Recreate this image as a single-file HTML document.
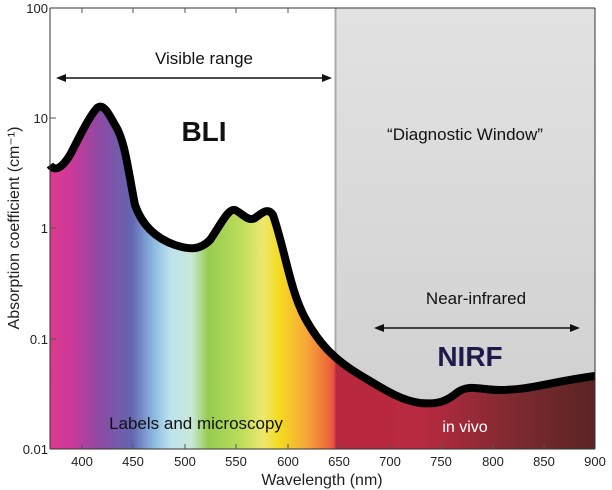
<!DOCTYPE html>
<html><head><meta charset="utf-8"><style>
body{margin:0;background:#fff;}
svg{display:block;font-family:"Liberation Sans",sans-serif;}
</style></head><body>
<svg width="612" height="490" viewBox="0 0 612 490" xmlns="http://www.w3.org/2000/svg">
<defs>
<linearGradient id="spec" x1="50" x2="595" y1="0" y2="0" gradientUnits="userSpaceOnUse">
<stop offset="0" stop-color="#de3a8e"/>
<stop offset="0.04" stop-color="#cc389a"/>
<stop offset="0.09" stop-color="#8d4aa3"/>
<stop offset="0.15" stop-color="#6266b0"/>
<stop offset="0.19" stop-color="#8ab8e0"/>
<stop offset="0.22" stop-color="#bde2ee"/>
<stop offset="0.26" stop-color="#c9e8d8"/>
<stop offset="0.29" stop-color="#96cc50"/>
<stop offset="0.35" stop-color="#bcdc5a"/>
<stop offset="0.39" stop-color="#ece870"/>
<stop offset="0.42" stop-color="#f4dc20"/>
<stop offset="0.47" stop-color="#f6a838"/>
<stop offset="0.51" stop-color="#ee6a3a"/>
<stop offset="0.521" stop-color="#e65040"/>
<stop offset="0.525" stop-color="#b8283e"/>
<stop offset="0.68" stop-color="#b82a40"/>
<stop offset="0.85" stop-color="#7e2a30"/>
<stop offset="1" stop-color="#5a2424"/>
</linearGradient>
<linearGradient id="gray" x1="0" x2="0" y1="0" y2="1">
<stop offset="0" stop-color="#e2e2e2"/><stop offset="1" stop-color="#cfcfcf"/>
</linearGradient>
<clipPath id="cl"><path d="M50,165 C55,172 62,168 70,155 C78,140 88,118 97,108 C103,103 108,112 115,125 C125,140 128,170 135,205 C142,225 155,238 175,245 C190,250 200,250 210,240 C220,226 228,208 235,210 C242,213 248,222 255,218 C262,213 268,207 273,215 C285,250 290,290 305,318 C320,345 335,360 360,375 C385,390 400,400 420,403 C440,405 448,400 458,392 C470,384 480,390 500,390 C530,390 550,382 595,376 L595,449 L50,449 Z"/></clipPath>
</defs>
<rect x="335" y="8" width="260" height="441" fill="url(#gray)"/>
<line x1="335.5" y1="8" x2="335.5" y2="449" stroke="#aaa" stroke-width="2"/>
<rect x="50" y="8" width="545" height="441" fill="url(#spec)" clip-path="url(#cl)"/>
<path d="M50,165 C55,172 62,168 70,155 C78,140 88,118 97,108 C103,103 108,112 115,125 C125,140 128,170 135,205 C142,225 155,238 175,245 C190,250 200,250 210,240 C220,226 228,208 235,210 C242,213 248,222 255,218 C262,213 268,207 273,215 C285,250 290,290 305,318 C320,345 335,360 360,375 C385,390 400,400 420,403 C440,405 448,400 458,392 C470,384 480,390 500,390 C530,390 550,382 595,376" fill="none" stroke="#000" stroke-width="8" stroke-linejoin="round"/>
<g stroke="#333" stroke-width="1" fill="none">
<line x1="50" y1="8" x2="50" y2="449"/><line x1="50" y1="449" x2="595" y2="449"/>
<line x1="50" y1="8" x2="595" y2="8"/><line x1="595" y1="8" x2="595" y2="449"/>
</g>
<g stroke="#555" stroke-width="1">
<line x1="82" y1="449" x2="82" y2="444"/><line x1="133" y1="449" x2="133" y2="444"/><line x1="185" y1="449" x2="185" y2="444"/><line x1="236" y1="449" x2="236" y2="444"/><line x1="288" y1="449" x2="288" y2="444"/><line x1="339" y1="449" x2="339" y2="444"/><line x1="390" y1="449" x2="390" y2="444"/><line x1="441" y1="449" x2="441" y2="444"/><line x1="493" y1="449" x2="493" y2="444"/><line x1="544" y1="449" x2="544" y2="444"/>
<line x1="82" y1="8" x2="82" y2="13"/><line x1="133" y1="8" x2="133" y2="13"/><line x1="185" y1="8" x2="185" y2="13"/><line x1="236" y1="8" x2="236" y2="13"/><line x1="288" y1="8" x2="288" y2="13"/>
<line x1="50" y1="118" x2="56" y2="118"/><line x1="50" y1="228" x2="56" y2="228"/><line x1="50" y1="339" x2="56" y2="339"/>
</g>
<g font-size="13" fill="#222" text-anchor="end">
<text x="48" y="13">100</text><text x="48" y="123">10</text><text x="48" y="233">1</text><text x="48" y="344">0.1</text><text x="48" y="454">0.01</text>
</g>
<g font-size="13" fill="#222" text-anchor="middle">
<text x="82" y="466">400</text><text x="133" y="466">450</text><text x="185" y="466">500</text><text x="236" y="466">550</text><text x="288" y="466">600</text><text x="339" y="466">650</text><text x="390" y="466">700</text><text x="441" y="466">750</text><text x="493" y="466">800</text><text x="544" y="466">850</text><text x="595" y="466">900</text>
</g>
<text x="322" y="485" font-size="16" fill="#222" text-anchor="middle">Wavelength (nm)</text>
<text transform="translate(19,228) rotate(-90)" font-size="16" fill="#222" text-anchor="middle">Absorption coefficient (cm⁻¹)</text>
<text x="204" y="64" font-size="17" fill="#111" text-anchor="middle">Visible range</text>
<line x1="62" y1="78" x2="326" y2="78" stroke="#111" stroke-width="1.5"/>
<path d="M56,78 L66,74 L66,82Z M332,78 L322,74 L322,82Z" fill="#111"/>
<text x="204" y="141" font-size="28" font-weight="bold" fill="#111" text-anchor="middle">BLI</text>
<text x="465" y="140" font-size="17" fill="#111" text-anchor="middle">“Diagnostic Window”</text>
<text x="476" y="304" font-size="17" fill="#111" text-anchor="middle">Near-infrared</text>
<line x1="380" y1="328" x2="574" y2="328" stroke="#111" stroke-width="1.5"/>
<path d="M374,328 L384,324 L384,332Z M580,328 L570,324 L570,332Z" fill="#111"/>
<text x="470" y="366" font-size="28" font-weight="bold" fill="#1e1a4a" text-anchor="middle">NIRF</text>
<text x="196" y="429" font-size="17" fill="#111" text-anchor="middle">Labels and microscopy</text>
<text x="465" y="432" font-size="16" fill="#fff" text-anchor="middle">in vivo</text>
</svg>
</body></html>
